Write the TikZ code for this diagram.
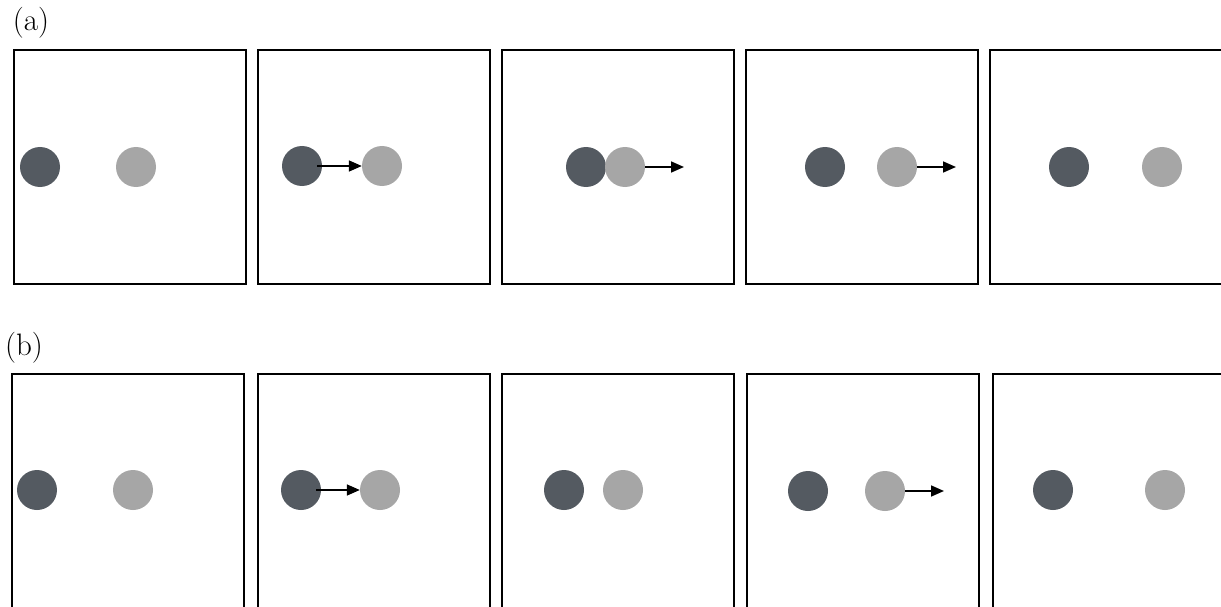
\documentclass[tikz,border=0pt]{standalone}
\usepackage{tikz}
\usetikzlibrary{arrows.meta,positioning}
\definecolor{Slate}{HTML}{545A61}
\definecolor{Ash}{HTML}{A6A6A6}
\tikzset{
  panel/.style={draw=black, line width=2pt, minimum width=232pt, minimum height=234pt,
                inner sep=0pt, fill=white},
  darkball/.style={circle, fill=Slate, minimum size=40pt, inner sep=0pt},
  lightball/.style={circle, fill=Ash, minimum size=40pt, inner sep=0pt},
  push/.style={-{Triangle[length=13pt,width=11pt]}, line width=1.6pt, draw=black},
  tag/.style={font=\fontsize{31}{36}\selectfont, inner sep=0pt},
}
\begin{document}
\begin{tikzpicture}[x=1pt, y=-1pt]
  \useasboundingbox (0,0) rectangle (1221,607);
  \clip (0,0) rectangle (1221,607);
  % (a) -- the collision passes the motion on
  \node[tag] (taga) at (31,23) {(a)};
  \node[panel] (pa1) at (130,167) {};
  \node[panel] (pa2) at (374,167) {};
  \node[panel] (pa3) at (618,167) {};
  \node[panel] (pa4) at (862,167) {};
  \node[panel] (pa5) at (1106,167) {};
  \node[darkball] (da1) at (40,167) {};
  \node[lightball] (la1) at (136,167) {};
  \node[darkball] (da2) at (302,166) {};
  \node[lightball] (la2) at (382,166) {};
  \node[darkball] (da3) at (586,167) {};
  \node[lightball] (la3) at (625,167) {};
  \node[darkball] (da4) at (825,167) {};
  \node[lightball] (la4) at (897,167) {};
  \node[darkball] (da5) at (1069,167) {};
  \node[lightball] (la5) at (1162,167) {};
  \coordinate (ta3) at (684,167);
  \coordinate (ta4) at (956,167);
  \draw[push] ([xshift=-5pt]da2.east) -- (la2.west);
  \draw[push] (la3.east) -- (ta3);
  \draw[push] (la4.east) -- (ta4);
  % (b) -- the motion jumps the gap
  \node[tag] (tagb) at (24,348) {(b)};
  \node[panel] (pb1) at (128,491) {};
  \node[panel] (pb2) at (374,491) {};
  \node[panel] (pb3) at (618,491) {};
  \node[panel] (pb4) at (863,491) {};
  \node[panel] (pb5) at (1109,491) {};
  \node[darkball] (db1) at (37,490) {};
  \node[lightball] (lb1) at (133,490) {};
  \node[darkball] (db2) at (301,490) {};
  \node[lightball] (lb2) at (380,490) {};
  \node[darkball] (db3) at (564,490) {};
  \node[lightball] (lb3) at (623,490) {};
  \node[darkball] (db4) at (808,491) {};
  \node[lightball] (lb4) at (885,491) {};
  \node[darkball] (db5) at (1053,490) {};
  \node[lightball] (lb5) at (1165,490) {};
  \coordinate (tb4) at (944,491);
  \draw[push] ([xshift=-5pt]db2.east) -- (lb2.west);
  \draw[push] (lb4.east) -- (tb4);
\end{tikzpicture}
\end{document}
